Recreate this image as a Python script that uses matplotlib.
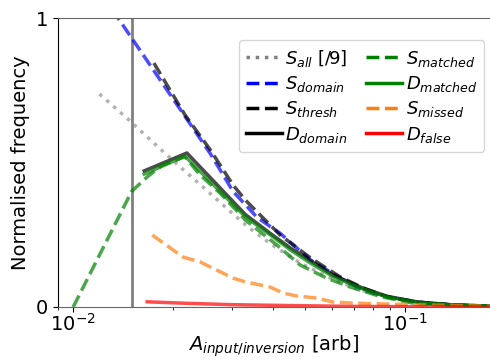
import numpy as np
import matplotlib
matplotlib.use('Agg')
import matplotlib.pyplot as plt
from matplotlib.ticker import NullFormatter

# DATA

# S_all [/9]
x_all = [0.0120, 0.0145, 0.0180, 0.0217, 0.0246, 0.0287, 0.0336, 0.0397, 0.0483, 0.0595, 0.0731, 0.0883, 0.1087, 0.136, 0.180]
y_all = [0.737, 0.654, 0.554, 0.470, 0.415, 0.346, 0.277, 0.215, 0.152, 0.100, 0.059, 0.035, 0.014, 0.007, 0.003]

# S_domain
x_dom = [0.0131, 0.0217, 0.0259, 0.0303, 0.0358, 0.0420, 0.0518, 0.0637, 0.0747, 0.0883, 0.109, 0.1395, 0.180]
y_dom = [1.03, 0.66, 0.53, 0.40, 0.31, 0.255, 0.163, 0.100, 0.059, 0.035, 0.017, 0.007, 0.003]

# S_thresh
x_thr = [0.0175, 0.0217, 0.0259, 0.0303, 0.0330, 0.0358, 0.0420, 0.0518, 0.0637, 0.0747, 0.0883, 0.109, 0.1395, 0.180]
y_thr = [0.844, 0.665, 0.543, 0.422, 0.370, 0.329, 0.249, 0.170, 0.104, 0.066, 0.035, 0.017, 0.007, 0.003]

# D_domain
x_ddom = [0.01636, 0.0220, 0.0330, 0.0392, 0.0450, 0.0518, 0.0607, 0.0747, 0.0883, 0.109, 0.1395, 0.180]
y_ddom = [0.471, 0.533, 0.320, 0.255, 0.205, 0.160, 0.110, 0.065, 0.037, 0.017, 0.007, 0.003]

# S_matched
x_smat = [0.0100, 0.0150, 0.0167, 0.0185, 0.0217, 0.0241, 0.0277, 0.0330, 0.0410, 0.0483, 0.0580, 0.0683, 0.0850, 0.105, 0.1395, 0.180]
y_smat = [0.0, 0.40, 0.45, 0.49, 0.52, 0.457, 0.394, 0.301, 0.215, 0.145, 0.100, 0.069, 0.035, 0.014, 0.007, 0.003]

# D_matched
x_dmat = [0.01636, 0.0217, 0.0330, 0.0392, 0.0450, 0.0518, 0.0607, 0.0747, 0.0883, 0.109, 0.1395, 0.180]
y_dmat = [0.460, 0.522, 0.312, 0.250, 0.198, 0.152, 0.105, 0.062, 0.035, 0.016, 0.007, 0.003]

# S_missed
x_smis = [0.0173, 0.0214, 0.0241, 0.0303, 0.0330, 0.0392, 0.0429, 0.0472, 0.0542, 0.0607, 0.0683, 0.090, 0.180]
y_smis = [0.249, 0.173, 0.156, 0.100, 0.087, 0.069, 0.048, 0.038, 0.031, 0.017, 0.014, 0.010, 0.003]

# D_false
x_dfal = [0.0167, 0.0217, 0.030, 0.045, 0.070, 0.180]
y_dfal = [0.018, 0.013, 0.008, 0.005, 0.002, 0.0]

# detection threshold
thresh = 0.015

# PLOTTING

plt.rcParams['font.size'] = 14
fig = plt.figure(figsize=(4.9, 3.6), dpi=100)
ax = fig.add_axes([58/490, 53/360, 432/490, 289/360])

a = 0.7
lw = 2.5
ax.axvline(thresh, color='gray', lw=2)
ax.plot(x_all, y_all, ':', color='gray', lw=lw, alpha=0.6, label=r'$S_{all}$ [/9]')
ax.plot(x_dom, y_dom, '--', color='blue', lw=lw, alpha=a, label=r'$S_{domain}$')
ax.plot(x_thr, y_thr, '--', color='k', lw=lw, alpha=a, label=r'$S_{thresh}$')
ax.plot(x_ddom, y_ddom, '-', color='k', lw=lw, alpha=a, label=r'$D_{domain}$')
ax.plot(x_smat, y_smat, '--', color='green', lw=lw, alpha=a, label=r'$S_{matched}$')
ax.plot(x_dmat, y_dmat, '-', color='green', lw=lw, alpha=a, label=r'$D_{matched}$')
ax.plot(x_smis, y_smis, '--', color='C1', lw=lw, alpha=a, label=r'$S_{missed}$')
ax.plot(x_dfal, y_dfal, '-', color='red', lw=lw, alpha=a, label=r'$D_{false}$')

ax.set_xscale('log')
ax.set_xlim(0.009, 0.18)
ax.set_ylim(0, 1)
ax.set_yticks([0, 1])
ax.xaxis.set_minor_formatter(NullFormatter())
ax.tick_params(axis='x', which='major', pad=1)
ax.spines['right'].set_visible(False)
ax.spines['top'].set_color('#666666')
ax.spines['bottom'].set_color('#666666')

ax.set_xlabel(r'$A_{input/inversion}$ [arb]', labelpad=-1)
ax.set_ylabel('Normalised frequency')

leg = ax.legend(ncol=2, fontsize=13, loc='upper right', bbox_to_anchor=(1.008, 0.954),
                handletextpad=0.2, columnspacing=1.0, labelspacing=0.3)
for h in leg.legend_handles:
    h.set_alpha(1)

fig.savefig('out.png', dpi=100)
